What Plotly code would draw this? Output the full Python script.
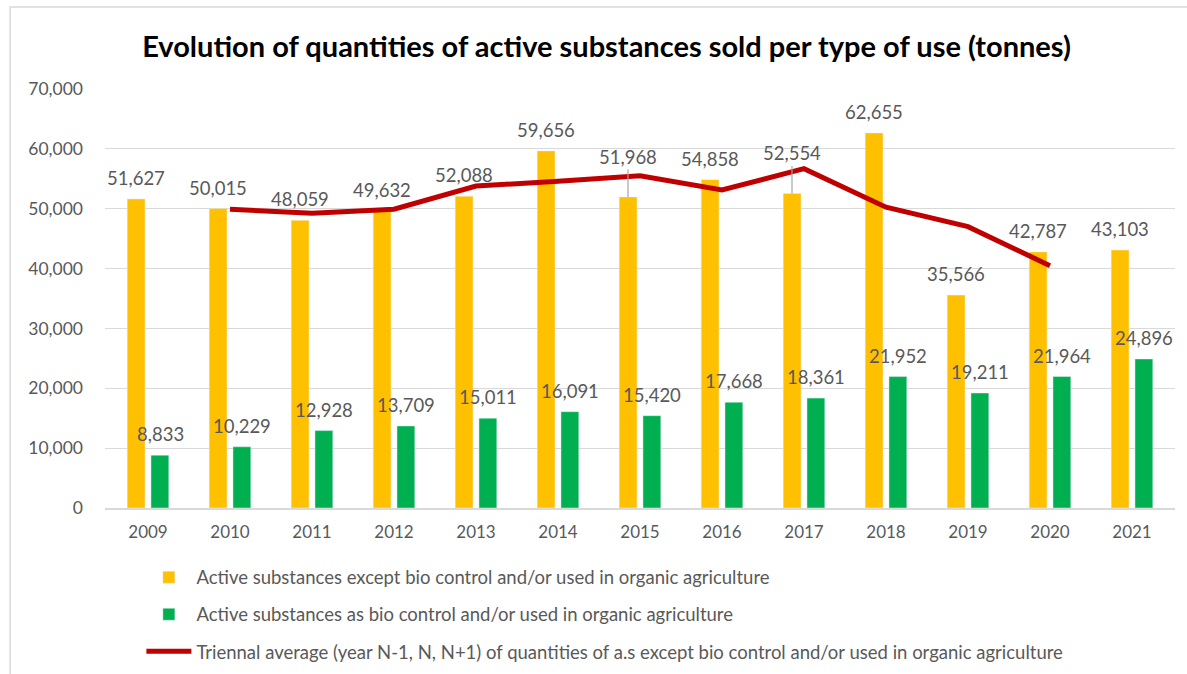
import plotly.graph_objects as go

years = ["2009", "2010", "2011", "2012", "2013", "2014", "2015", "2016", "2017", "2018", "2019", "2020", "2021"]
conventional = [51627, 50015, 48059, 49632, 52088, 59656, 51968, 54858, 52554, 62655, 35566, 42787, 43103]
biocontrol = [8833, 10229, 12928, 13709, 15011, 16091, 15420, 17668, 18361, 21952, 19211, 21964, 24896]
triennial = [None, 49900, 49235, 49926, 53792, 54571, 55494, 53127, 56689, 50258, 47003, 40485, None]

name_conv = "Active substances except bio control and/or used in organic agriculture"
name_bio = "Active substances as bio control and/or used in organic agriculture"
name_tri = "Triennal average (year N-1, N, N+1) of quantities of a.s except bio control and/or used in organic agriculture"
title_text = "Evolution of quantities of active substances sold per type of use (tonnes)"

leader_years = ["2015", "2017"]

YELLOW = "#FFC000"
GREEN = "#00B050"
RED = "#C00000"
GREY_TXT = "#595959"
GRID = "#D9D9D9"
FONT = "Lato, 'Open Sans', sans-serif"

fig = go.Figure()
fig.add_trace(go.Bar(x=years, y=conventional, name=name_conv, marker_color=YELLOW,
                     legendgroup="a", hoverinfo="x+y"))
fig.add_trace(go.Bar(x=years, y=biocontrol, name=name_bio, marker_color=GREEN,
                     legendgroup="b", hoverinfo="x+y"))
fig.add_trace(go.Scatter(x=years, y=triennial, name=name_tri, mode="lines",
                         line=dict(color=RED, width=5), legendgroup="c", connectgaps=False))

annotations = []
label_font = dict(size=18.5, color=GREY_TXT, family=FONT)
for i, (yr, v) in enumerate(zip(years, conventional)):
    if yr in leader_years:
        annotations.append(dict(x=i, y=v, xref="x", yref="y", text=f"{v:,}",
                                showarrow=True, arrowhead=0, arrowwidth=1.2, arrowcolor="#A6A6A6",
                                ax=0, ay=-40, xshift=-12, font=label_font))
    else:
        annotations.append(dict(x=i, y=v, xref="x", yref="y", text=f"{v:,}",
                                showarrow=False, yanchor="middle", yshift=21, xshift=-12,
                                font=label_font))
for i, v in enumerate(biocontrol):
    annotations.append(dict(x=i, y=v, xref="x", yref="y", text=f"{v:,}",
                            showarrow=False, yanchor="middle", yshift=21, xshift=12,
                            font=label_font))

fig.update_layout(
    width=1187, height=674,
    margin=dict(l=105, r=12, t=89, b=166, autoexpand=False),
    paper_bgcolor="white", plot_bgcolor="white",
    barmode="group", bargap=0.42, bargroupgap=0.25,
    font=dict(family=FONT, color=GREY_TXT, size=17),
    title=dict(text=title_text, x=0.511, xref="container", xanchor="center",
               y=0.93, yref="container", yanchor="middle",
               font=dict(size=29, color="black", family=FONT, weight="bold")),
    xaxis=dict(type="category", showgrid=False, showline=True, linecolor=GRID, linewidth=2,
               ticks="", tickfont=dict(size=17, color=GREY_TXT), ticklabelstandoff=8),
    yaxis=dict(range=[0, 70000], dtick=10000, tickformat=",d", showgrid=True, gridcolor=GRID,
               gridwidth=1.3, zeroline=False, showline=False, ticks="",
               tickfont=dict(size=17.5, color=GREY_TXT), ticklabelstandoff=21),
    legend=dict(orientation="v", x=0.034, xanchor="left", y=-0.121, yanchor="top",
                traceorder="grouped", tracegroupgap=10, itemwidth=45,
                font=dict(size=18.5, color=GREY_TXT, family=FONT), bgcolor="rgba(0,0,0,0)"),
    annotations=annotations,
    showlegend=True,
)

fig.add_shape(type="rect", xref="paper", yref="paper",
              x0=-0.0887, x1=1.05, y0=-0.5, y1=1.1957,
              line=dict(color=GRID, width=1.5), fillcolor="rgba(0,0,0,0)", layer="below")

fig.write_html("out.html")
